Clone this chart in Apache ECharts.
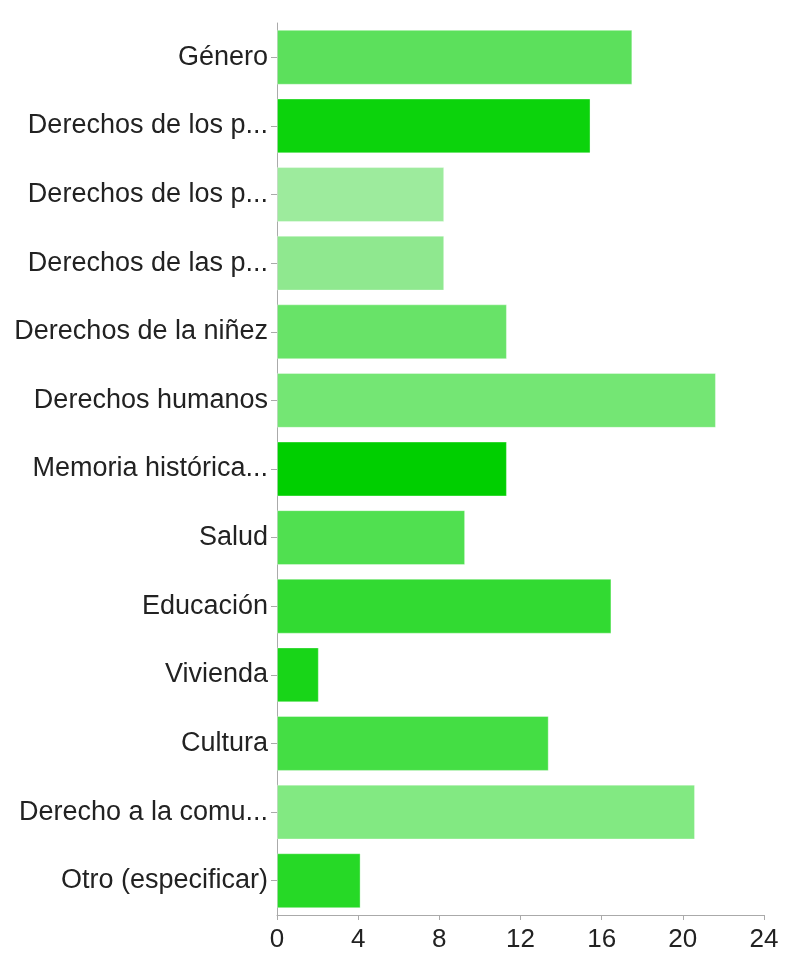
<!DOCTYPE html>
<html>
<head>
<meta charset="utf-8">
<script src="https://cdn.jsdelivr.net/npm/echarts@6/dist/echarts.min.js"></script>
<style>
html,body{margin:0;padding:0;background:#fff;}
#chart{width:796px;height:953px;}
</style>
</head>
<body>
<div id="chart"></div>
<script>
var categories = [
  "Género",
  "Derechos de los p...",
  "Derechos de los p...",
  "Derechos de las p...",
  "Derechos de la niñez",
  "Derechos humanos",
  "Memoria histórica...",
  "Salud",
  "Educación",
  "Vivienda",
  "Cultura",
  "Derecho a la comu...",
  "Otro (especificar)"
];
var values = [17, 15, 8, 8, 11, 21, 11, 9, 16, 2, 13, 20, 4];
var barColors = [
  "#5CE05C", "#0CD30C", "#9DEB9D", "#8FE88F", "#68E368", "#74E674",
  "#00CF00", "#50E050", "#32DA32", "#18D518", "#44DE44", "#82E982", "#26D926"
];
var tickMin = 0, tickMax = 24, tickStep = 4;

var chart = echarts.init(document.getElementById('chart'));
chart.setOption({
  animation: false,
  backgroundColor: '#ffffff',
  grid: { left: 277, right: 32, top: 23, bottom: 38, containLabel: false },
  xAxis: [
    {
      type: 'value', min: tickMin, max: tickMax, interval: tickStep,
      position: 'bottom',
      axisLine: { show: true, lineStyle: { color: '#aaaaaa', width: 1 } },
      axisTick: { show: true, length: 5, lineStyle: { color: '#aaaaaa' } },
      splitLine: { show: false },
      axisLabel: { color: '#222', fontSize: 26, fontFamily: 'Liberation Sans, Arial, sans-serif', margin: 12 }
    },
    {
      type: 'value', min: 0, max: 23.3, show: false, position: 'top',
      splitLine: { show: false }
    }
  ],
  yAxis: {
    type: 'category', data: categories, inverse: true,
    axisLine: { show: true, lineStyle: { color: '#aaaaaa', width: 1 } },
    axisTick: { show: true, alignWithLabel: true, length: 6, lineStyle: { color: '#aaaaaa' } },
    axisLabel: { color: '#222', fontSize: 27, fontFamily: 'Liberation Sans, Arial, sans-serif', margin: 9, padding: [4, 0, 0, 0] }
  },
  series: [{
    type: 'bar',
    xAxisIndex: 1,
    data: values.map(function (v, i) { return { value: v, itemStyle: { color: barColors[i] } }; }),
    barCategoryGap: '20%',
    itemStyle: { borderColor: 'rgba(255,255,255,0.35)', borderWidth: 1 }
  }]
});
</script>
</body>
</html>
